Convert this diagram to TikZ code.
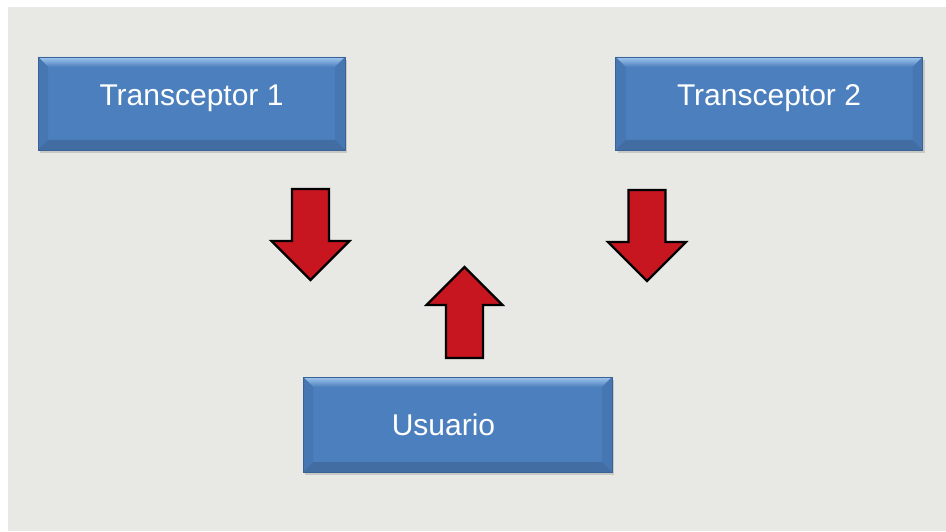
\documentclass[tikz,border=0pt]{standalone}
\usepackage{fontspec}
\setmainfont{Liberation Sans}
\usetikzlibrary{positioning,calc,shadows}
\definecolor{fondo}{RGB}{232,232,228}
\definecolor{azulcaja}{RGB}{76,127,189}
\definecolor{azulclaro}{RGB}{160,198,238}
\definecolor{azuloscuro}{RGB}{58,98,150}
\definecolor{rojoflecha}{RGB}{200,22,32}

\begin{document}
\begin{tikzpicture}[x=1pt,y=1pt,
  caja/.style={draw=azuloscuro,line width=0.6pt,fill=azulcaja,minimum width=307pt,minimum height=93pt,
    inner sep=0pt,text=white,font=\fontsize{30}{36}\selectfont,
    drop shadow={shadow xshift=2pt,shadow yshift=-3pt,opacity=0.3},
    path picture={
      \coordinate (nw) at (path picture bounding box.north west);
      \coordinate (ne) at (path picture bounding box.north east);
      \coordinate (sw) at (path picture bounding box.south west);
      \coordinate (se) at (path picture bounding box.south east);
      \shade[top color=azulclaro,bottom color=azulcaja] (nw) -- (ne) -- ($(ne)+(-10,-10)$) -- ($(nw)+(10,-10)$) -- cycle;
      \fill[azulcaja!94!black] (nw) -- ($(nw)+(10,-10)$) -- ($(sw)+(10,10)$) -- (sw) -- cycle;
      \fill[azulcaja!94!black] (ne) -- ($(ne)+(-10,-10)$) -- ($(se)+(-10,10)$) -- (se) -- cycle;
      \fill[azulcaja!86!black] (sw) -- ($(sw)+(10,10)$) -- ($(se)+(-10,10)$) -- (se) -- cycle;
    }},
  flecha/.style={draw=black,line width=2.2pt,fill=rojoflecha,line join=miter},
  flechabajo/.pic={\draw[flecha] (-18.5,0) -- (18.5,0) -- (18.5,-52) -- (39,-52) -- (0,-91) -- (-39,-52) -- (-18.5,-52) -- cycle;},
  flechaarriba/.pic={\draw[flecha] (-18.5,0) -- (18.5,0) -- (18.5,53) -- (38,53) -- (0,91) -- (-38,53) -- (-18.5,53) -- cycle;}]

\useasboundingbox (0,0) rectangle (946,531);
\fill[white] (0,0) rectangle (946,531);
\fill[fondo] (8,0) rectangle (946,524);

% cajas
\node[caja,text depth=16pt] (trans1) at (191.5,427.5) {Transceptor 1};
\node[caja,text depth=16pt] (trans2) at (769,427.5) {Transceptor 2};
\node[caja,minimum width=309pt,minimum height=95pt] (usuario) at (457.5,106.5) {Usuario\kern28pt};

% flechas
\pic at (310.5,342) {flechabajo};
\pic at (647,341) {flechabajo};
\pic at (464.5,173) {flechaarriba};
\end{tikzpicture}
\end{document}
